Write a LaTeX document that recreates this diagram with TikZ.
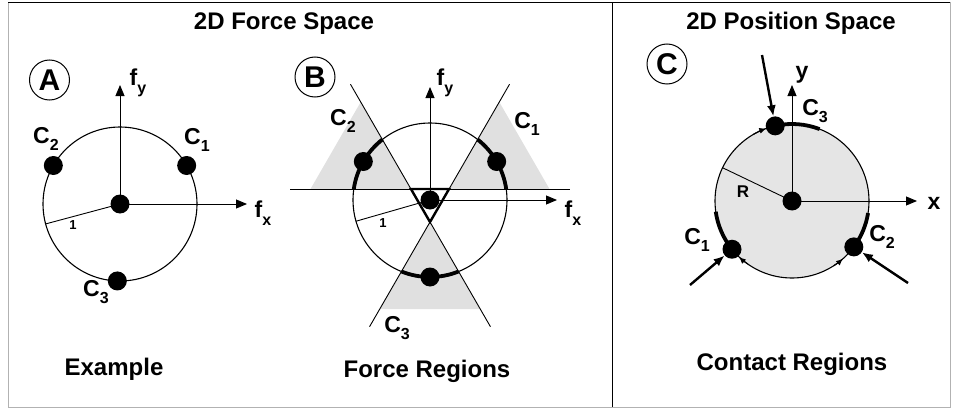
\documentclass[tikz,border=0pt]{standalone}
\usepackage{fontspec}
\setmainfont{Liberation Sans}
\usepackage{tikz}
\usetikzlibrary{arrows.meta, positioning}
\newcommand{\csub}[2]{#1\raisebox{-0.33em}{\fontsize{16}{16}\selectfont #2}}

\begin{document}
\begin{tikzpicture}[
    x=1pt, y=1pt,
    axis/.style={-{Triangle[length=11pt, width=9pt]}, line width=0.9pt},
    rim/.style={line width=1.1pt},
    contact/.style={circle, fill=black, inner sep=0pt, minimum size=19pt},
    cone/.style={fill=gray!24},
    region/.style={line width=3.8pt},
    push/.style={-{Latex[length=11pt, width=9pt]}, line width=2.4pt},
    slip/.style={-{Latex[length=7pt, width=6pt]}, line width=1.1pt},
    lbl/.style={font=\fontsize{23}{23}\selectfont\bfseries, inner sep=0pt},
    caption/.style={font=\fontsize{24}{24}\selectfont\bfseries, inner sep=0pt, anchor=base},
    unit/.style={font=\fontsize{13}{13}\selectfont\bfseries, inner sep=0pt},
    tag/.style={circle, draw, line width=1pt, minimum size=40pt, inner sep=0pt,
                font=\fontsize{30}{30}\selectfont\bfseries}
]
    \useasboundingbox (0,0) rectangle (953,408);

    % Frame
    \draw[gray!60, line width=1pt] (8,1) rectangle (950,405);
    \draw[line width=1pt] (8,405) -- (950,405);
    \draw[line width=1pt] (612,1) -- (612,405);

    % Titles
    \node[caption] (ttlForce) at (284,378) {2D Force Space};
    \node[caption] (ttlPos)   at (791,378) {2D Position Space};

    % Panel A: example
    \coordinate (oA) at (120,204);
    \coordinate (fxA) at (247,204);
    \coordinate (fyA) at (120,323);
    \draw[rim] (oA) circle[radius=77];
    \draw[axis] (oA) -- (fxA);
    \draw[axis] (oA) -- (fyA);
    \path (oA) ++(195:77) coordinate (rA);
    \draw[line width=0.9pt] (oA) -- (rA);
    \node[contact] (dA0) at (oA) {};
    \foreach \a/\n in {30/1, 150/2, 268/3} {
        \node[contact] (dA\n) at ([shift={(\a:77)}]oA) {};
    }
    \node[tag] (tagA) at (49.5,328) {A};
    \node[lbl] (fyAlbl) at (138,325) {\csub{f}{y}};
    \node[lbl] (fxAlbl) at (263,195) {\csub{f}{x}};
    \node[lbl] (cA1) at (197,268) {\csub{C}{1}};
    \node[lbl] (cA2) at (46,269)  {\csub{C}{2}};
    \node[lbl] (cA3) at (96,116)  {\csub{C}{3}};
    \node[unit] (oneA) at (73,183) {1};
    \node[caption] (capA) at (114,33) {Example};

    % Panel B: force regions
    \coordinate (oB) at (430,208);
    \coordinate (fxB) at (557,208);
    \coordinate (fyB) at (430,321);
    \foreach \r in {0, 120, 240} {
        \begin{scope}[shift={(oB)}, rotate=\r]
            \fill[cone] (270:22) -- (-50,-109) -- (50,-109) -- cycle;
        \end{scope}
    }
    \draw[rim] (oB) circle[radius=77];
    \foreach \r in {0, 120, 240} {
        \begin{scope}[shift={(oB)}, rotate=\r]
            \draw[line width=0.9pt] (-140,11) -- (140,11);
        \end{scope}
    }
    \draw[axis] (oB) -- (fxB);
    \draw[axis] (oB) -- (fyB);
    \path (oB) ++(196:77) coordinate (rB);
    \draw[line width=0.9pt] (oB) -- (rB);
    \foreach \r/\n in {0/3, 120/1, 240/2} {
        \begin{scope}[shift={(oB)}, rotate=\r]
            \draw[region] (248.2:77) arc[start angle=248.2, end angle=291.8, radius=77];
            \node[contact] (dB\n) at (270:77) {};
        \end{scope}
    }
    \begin{scope}[shift={(oB)}]
        \draw[line width=2.4pt, line join=miter] (30:22) -- (150:22) -- (270:22) -- cycle;
    \end{scope}
    \node[contact] (dB0) at (oB) {};
    \node[tag] (tagB) at (315,331) {B};
    \node[lbl] (fyBlbl) at (445,325) {\csub{f}{y}};
    \node[lbl] (fxBlbl) at (573,195) {\csub{f}{x}};
    \node[lbl] (cB1) at (527,284) {\csub{C}{1}};
    \node[lbl] (cB2) at (343,287) {\csub{C}{2}};
    \node[lbl] (cB3) at (397,80)  {\csub{C}{3}};
    \node[unit] (oneB) at (383,185) {1};
    \node[caption] (capB) at (427,31) {Force Regions};

    % Panel C: contact regions
    \coordinate (oC) at (792,207);
    \coordinate (xC) at (917,207);
    \coordinate (yC) at (792,323);
    \fill[gray!20] (oC) circle[radius=77];
    \draw[rim] (oC) circle[radius=77];
    \draw[axis] (oC) -- (xC);
    \draw[axis] (oC) -- (yC);
    \path (oC) ++(154.4:77) coordinate (rC);
    \draw[line width=0.9pt] (oC) -- (rC);
    \foreach \a/\b in {69/102, 188/219, 323/351} {
        \draw[region] ([shift={(\a:77)}]oC) arc[start angle=\a, end angle=\b, radius=77];
    }
    \foreach \a/\b in {120/109.5, 235/226.5, 303/311.5} {
        \draw[slip] ([shift={(\a:77)}]oC) arc[start angle=\a, end angle=\b, radius=77];
    }
    \node[contact] (dC0) at (oC) {};
    \foreach \a/\n in {218.8/1, 323.4/2, 102.6/3} {
        \node[contact] (dC\n) at ([shift={(\a:77)}]oC) {};
    }
    \coordinate (pC1) at (690,123);
    \coordinate (pC2) at (908,125);
    \coordinate (pC3) at (762,353);
    \foreach \n in {1,2,3} {
        \draw[push] (pC\n) -- (dC\n);
    }
    \node[tag] (tagC) at (667,344) {C};
    \node[lbl] (yClbl) at (802,333) {y};
    \node[lbl] (xClbl) at (934,205) {x};
    \node[lbl] (cC1) at (697,168) {\csub{C}{1}};
    \node[lbl] (cC2) at (882,171) {\csub{C}{2}};
    \node[lbl] (cC3) at (815,297) {\csub{C}{3}};
    \node[font=\fontsize{17}{17}\selectfont\bfseries, inner sep=0pt] (rClbl) at (743,216) {R};
    \node[caption] (capC) at (792,38) {Contact Regions};

\end{tikzpicture}
\end{document}
